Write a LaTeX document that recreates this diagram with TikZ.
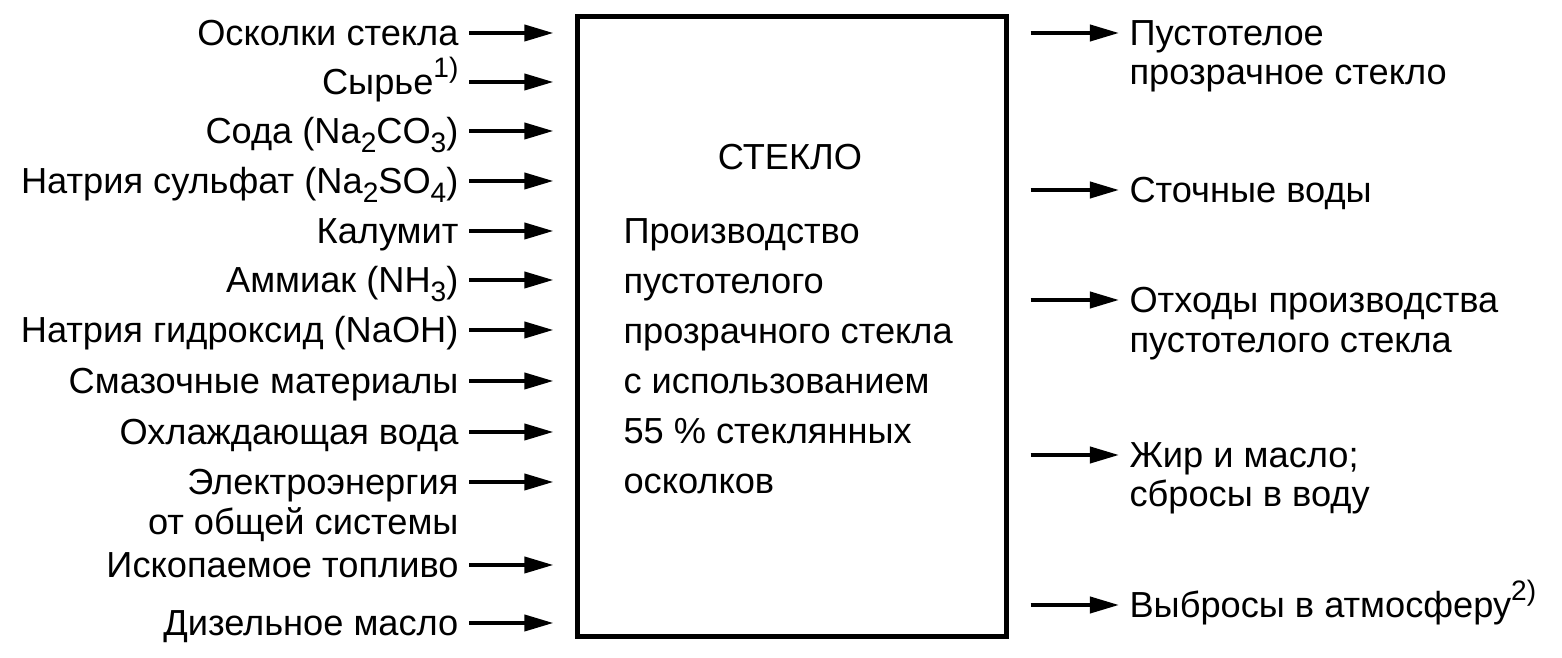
\documentclass[tikz,border=0pt]{standalone}
\usepackage{fontspec}
\setmainfont{Liberation Sans}
\usetikzlibrary{arrows.meta,positioning}
\newcommand{\lowidx}[1]{\raisebox{-0.45ex}{\fontsize{8}{8}\selectfont #1}}
\newcommand{\highidx}[1]{\raisebox{0.9ex}{\fontsize{8}{8}\selectfont #1}}

\begin{document}
\begin{tikzpicture}[x=0.01cm,y=-0.01cm]
\tikzset{
  lbl/.style={font=\fontsize{10.3}{11.1}\selectfont,inner xsep=2.8pt,inner ysep=0pt,text height=0.72em,text depth=0pt},
  inlabel/.style={lbl,anchor=east},
  outlabel/.style={lbl,anchor=west},
  procbox/.style={draw=black,line width=1.4pt,minimum width=4.28cm,minimum height=6.19cm,inner sep=0pt},
  boxtext/.style={font=\fontsize{10.3}{14.2}\selectfont,align=left,inner sep=2.8pt},
  flow/.style={draw=black,line width=1.1pt,-{Triangle[length=2.9mm,width=1.6mm]}},
  flowin/.style={flow,shorten >=0.22cm},
  flowout/.style={flow,shorten <=0.22cm}
}
\useasboundingbox (0,0) rectangle (1562,658);
% process block
\node[procbox] (n_box) at (792,326.5) {};
\node[lbl,anchor=center] (n_title) at (790,157) {СТЕКЛО};
\node[boxtext,anchor=north west] (n_desc) at (613,208) {Производство\\пустотелого\\прозрачного стекла\\с использованием\\55~\% стеклянных\\осколков};
% inputs
\node[inlabel] (n_in01) at (469,33) {Осколки стекла};
\node[inlabel] (n_in02) at (469,82) {Сырье\highidx{1)}};
\node[inlabel] (n_in03) at (469,131) {Сода (Na\lowidx{2}CO\lowidx{3})};
\node[inlabel] (n_in04) at (469,181) {Натрия сульфат (Na\lowidx{2}SO\lowidx{4})};
\node[inlabel] (n_in05) at (469,231) {Калумит};
\node[inlabel] (n_in06) at (469,280) {Аммиак (NH\lowidx{3})};
\node[inlabel] (n_in07) at (469,330) {Натрия гидроксид (NaOH)};
\node[inlabel] (n_in08) at (469,381) {Смазочные материалы};
\node[inlabel] (n_in09) at (469,432) {Охлаждающая вода};
\node[inlabel] (n_in10) at (469,482) {Электроэнергия};
\node[inlabel] (n_in10b) at (469,522) {от общей системы};
\node[inlabel] (n_in11) at (469,565) {Ископаемое топливо};
\node[inlabel] (n_in12) at (469,623) {Дизельное масло};
% outputs
\node[outlabel] (n_out1) at (1119,33) {Пустотелое};
\node[outlabel] (n_out1b) at (1119,72) {прозрачное стекло};
\node[outlabel] (n_out2) at (1119,190) {Сточные воды};
\node[outlabel] (n_out3) at (1119,300) {Отходы производства};
\node[outlabel] (n_out3b) at (1119,340) {пустотелого стекла};
\node[outlabel] (n_out4) at (1119,455) {Жир и масло;};
\node[outlabel] (n_out4b) at (1119,494) {сбросы в воду};
\node[outlabel] (n_out5) at (1119,605) {Выбросы в атмосферу\highidx{2)}};
\draw[flowin] (n_in01) -- (n_in01 -| n_box.west);
\draw[flowin] (n_in02) -- (n_in02 -| n_box.west);
\draw[flowin] (n_in03) -- (n_in03 -| n_box.west);
\draw[flowin] (n_in04) -- (n_in04 -| n_box.west);
\draw[flowin] (n_in05) -- (n_in05 -| n_box.west);
\draw[flowin] (n_in06) -- (n_in06 -| n_box.west);
\draw[flowin] (n_in07) -- (n_in07 -| n_box.west);
\draw[flowin] (n_in08) -- (n_in08 -| n_box.west);
\draw[flowin] (n_in09) -- (n_in09 -| n_box.west);
\draw[flowin] (n_in10) -- (n_in10 -| n_box.west);
\draw[flowin] (n_in11) -- (n_in11 -| n_box.west);
\draw[flowin] (n_in12) -- (n_in12 -| n_box.west);
\draw[flowout] (n_out1 -| n_box.east) -- (n_out1);
\draw[flowout] (n_out2 -| n_box.east) -- (n_out2);
\draw[flowout] (n_out3 -| n_box.east) -- (n_out3);
\draw[flowout] (n_out4 -| n_box.east) -- (n_out4);
\draw[flowout] (n_out5 -| n_box.east) -- (n_out5);
\end{tikzpicture}
\end{document}
